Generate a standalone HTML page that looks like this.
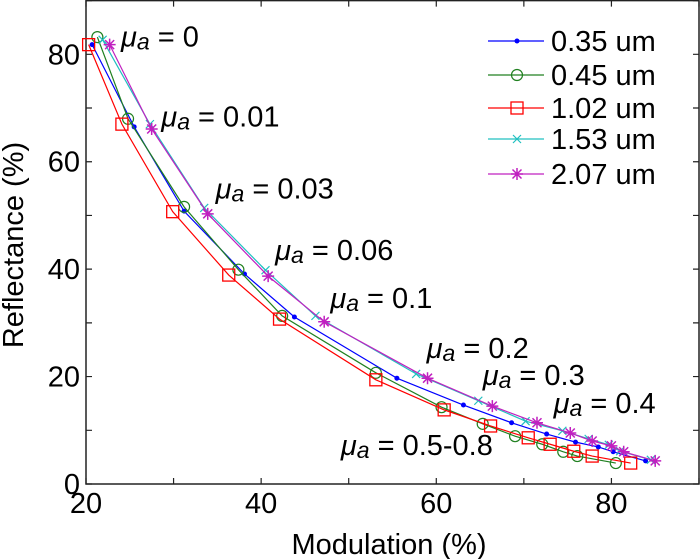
<!DOCTYPE html>
<html><head><meta charset="utf-8"><style>
html,body{margin:0;padding:0;background:#fff;}
svg{display:block;font-family:"Liberation Sans",Arial,sans-serif;}
</style></head><body>
<svg id="chart" width="700" height="559" viewBox="0 0 700 559">
<g id="axes"></g><g id="series"></g><g id="annot"></g><g id="legend"></g>
</svg>
<script>
const xTicks=[20,30,40,50,60,70,80,90];
const xTickLabels=["20","40","60","80"];
const yTicks=[0,10,20,30,40,50,60,70,80,90];
const yTickLabels=["0","20","40","60","80"];
const seriesNames=["0.35 um","0.45 um","1.02 um","1.53 um","2.07 um"];
const seriesColors=["#0000ff","#208020","#ff0000","#20c0c0","#c020c0"];
const mod035=[20.7,25.5,31.2,38.1,43.8,55.5,63.1,68.6,72.6,75.9,78.5,80.2,83.9];
const ref035=[81.8,66.5,50.8,39.1,31.1,19.7,14.7,11.4,9.3,7.8,6.9,6.0,4.3];
const mod045=[21.3,24.8,31.2,37.4,42.4,53.1,60.6,65.3,69.0,72.1,74.5,76.1,80.5];
const ref045=[83.2,68.0,51.6,39.9,31.3,20.7,14.3,11.2,8.9,7.4,6.0,5.2,3.9];
const mod102=[20.3,24.1,29.9,36.3,42.1,53.1,60.9,66.2,70.5,73.0,75.7,77.8,82.2];
const ref102=[81.8,67.0,50.7,38.9,30.7,19.4,13.8,10.8,8.6,7.4,6.1,5.2,3.9];
const mod153=[21.9,27.3,33.5,40.5,46.2,57.7,64.8,70.2,74.4,77.4,79.7,81.0,84.5];
const ref153=[82.7,67.0,51.4,39.8,31.3,20.5,15.5,11.7,9.9,8.4,7.3,6.1,4.5];
const mod207=[22.7,27.5,33.9,40.8,47.2,59.0,66.4,71.5,75.3,77.8,80.0,81.4,85.0];
const ref207=[81.8,66.1,50.3,38.7,30.2,19.7,14.5,11.4,9.5,8.0,7.1,6.0,4.3];
const annLabels=["= 0","= 0.01","= 0.03","= 0.06","= 0.1","= 0.2","= 0.3","= 0.4","= 0.5-0.8"];
const annX=[24.0,28.6,34.8,41.6,47.9,58.9,65.3,73.4,49.1];
const annY=[81.5,66.6,53.2,41.7,32.8,23.5,18.4,13.2,5.4];

const NS="http://www.w3.org/2000/svg";
const L=86,R=699,T=0.6,B=484,xmin=20,xmax=90,ymin=0,ymax=90;
const FS=29;
function X(v){return L+(v-xmin)*(R-L)/(xmax-xmin);}
function Y(v){return B-(v-ymin)*(B-T)/(ymax-ymin);}
function mk(tag,attrs,parent){const e=document.createElementNS(NS,tag);for(const k in attrs)e.setAttribute(k,attrs[k]);parent.appendChild(e);return e;}
const axes=document.getElementById('axes');
const frame=mk('rect',{x:L,y:T,width:R-L,height:B-T,fill:'none',stroke:'#222','stroke-width':1.5},axes);


xTicks.forEach(v=>{const t=mk('path',{d:`M${X(v)},${B}v-6M${X(v)},${T}v6`,stroke:'#222','stroke-width':1.2},axes);

});
yTicks.forEach(v=>{const t=mk('path',{d:`M${L},${Y(v)}h6M${R},${Y(v)}h-6`,stroke:'#222','stroke-width':1.2},axes);

});
xTickLabels.forEach(s=>{const t=mk('text',{x:X(+s),y:513,'font-size':FS,'text-anchor':'middle',fill:'#000'},axes);t.textContent=s;

});
yTickLabels.forEach(s=>{const t=mk('text',{x:80,y:Y(+s)+10,'font-size':FS,'text-anchor':'end',fill:'#000'},axes);t.textContent=s;

});
const xt=mk('text',{x:389,y:554,'font-size':FS,'text-anchor':'middle',fill:'#000'},axes);xt.textContent='Modulation (%)';


const yt=mk('text',{x:0,y:0,'font-size':FS,'text-anchor':'middle',fill:'#000',transform:'translate(23,245) rotate(-90)'},axes);yt.textContent='Reflectance (%)';



function marker(i,cx,cy,g){
  const c=seriesColors[i];
  if(i===0) return mk('circle',{cx,cy,r:2.5,fill:c},g);
  if(i===1) return mk('circle',{cx,cy,r:5.5,fill:'none',stroke:c,'stroke-width':1.2},g);
  if(i===2) return mk('rect',{x:cx-6,y:cy-6,width:12,height:12,fill:'none',stroke:c,'stroke-width':1.3},g);
  if(i===3) return mk('path',{d:`M${cx-4},${cy-4}L${cx+4},${cy+4}M${cx-4},${cy+4}L${cx+4},${cy-4}`,stroke:c,'stroke-width':1.2},g);
  return mk('path',{d:`M${cx-6},${cy}h12M${cx},${cy-6}v12M${cx-4.5},${cy-4.5}l9,9M${cx-4.5},${cy+4.5}l9,-9`,stroke:c,'stroke-width':1.5},g);
}
const xs=[mod035,mod045,mod102,mod153,mod207],ys=[ref035,ref045,ref102,ref153,ref207];
const sg=document.getElementById('series');
xs.forEach((mx,i)=>{
  const g=mk('g',{},sg);
  
  
  const pl=mk('polyline',{points:mx.map((v,j)=>X(v)+','+Y(ys[i][j])).join(' '),fill:'none',stroke:seriesColors[i],'stroke-width':1.2},g);
  
  
  mx.forEach((v,j)=>{const m=marker(i,X(v),Y(ys[i][j]),g);
    
    });
});
const ag=document.getElementById('annot');
annLabels.forEach((s,i)=>{
  const t=mk('text',{x:X(annX[i]),y:Y(annY[i]),'font-size':FS,fill:'#000'},ag);
  
  
  const a=mk('tspan',{'font-style':'italic'},t);a.textContent='μ';
  const b=mk('tspan',{'font-style':'italic','font-size':23,dy:3},t);b.textContent='a';
  const c=mk('tspan',{dy:-3},t);c.textContent=' '+s;
});
const lg=document.getElementById('legend');
const legY=[41,75,108,139,174];
seriesNames.forEach((s,i)=>{
  const g=mk('g',{},lg);
  
  
  mk('line',{x1:488,x2:544,y1:legY[i],y2:legY[i],stroke:seriesColors[i],'stroke-width':1.2},g);
  marker(i,517,legY[i],g);
  const t=mk('text',{x:551,y:legY[i]+10,'font-size':FS,fill:'#000'},g);t.textContent=s;
});
</script>
</body></html>
